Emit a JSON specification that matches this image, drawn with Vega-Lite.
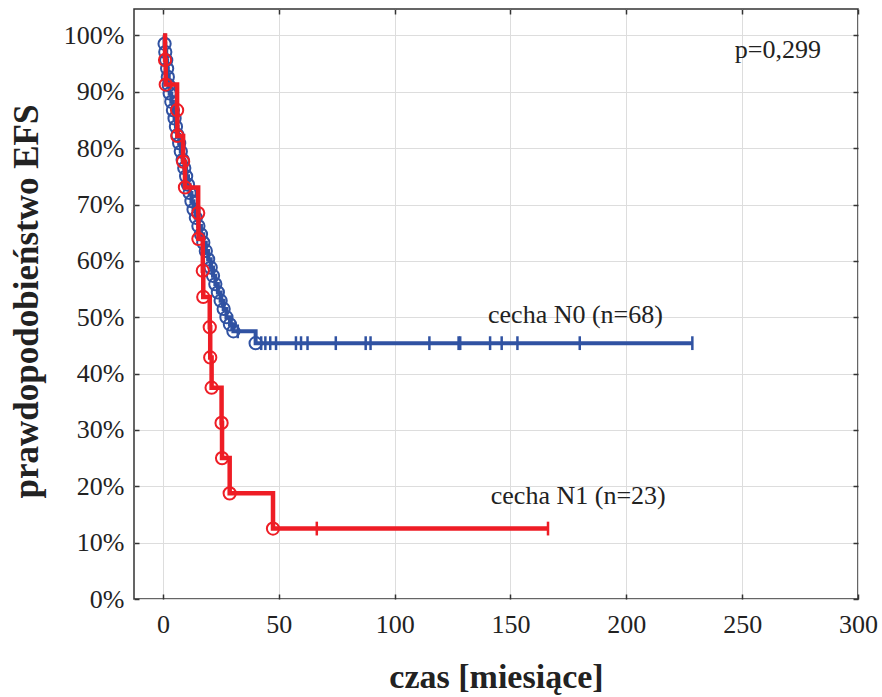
{
  "$schema": "https://vega.github.io/schema/vega-lite/v6.json",
  "width": 724,
  "height": 590,
  "autosize": {"type": "none"},
  "padding": {"left": 134, "top": 9, "right": 24, "bottom": 98},
  "background": "white",
  "config": {
    "font": "Liberation Serif",
    "view": {"stroke": "#333333", "strokeWidth": 1.5}
  },
  "datasets": {
    "km": [
      {"g": "N0", "t": 0, "s": 1, "k": "s"},
      {"g": "N0", "t": 0.7, "s": 0.9853, "k": "e"},
      {"g": "N0", "t": 1.0, "s": 0.9706, "k": "e"},
      {"g": "N0", "t": 1.4, "s": 0.9559, "k": "e"},
      {"g": "N0", "t": 1.8, "s": 0.9412, "k": "e"},
      {"g": "N0", "t": 2.1, "s": 0.9265, "k": "e"},
      {"g": "N0", "t": 2.5, "s": 0.9118, "k": "e"},
      {"g": "N0", "t": 2.9, "s": 0.8971, "k": "e"},
      {"g": "N0", "t": 3.6, "s": 0.8824, "k": "e"},
      {"g": "N0", "t": 4.3, "s": 0.8676, "k": "e"},
      {"g": "N0", "t": 5.0, "s": 0.8529, "k": "e"},
      {"g": "N0", "t": 5.6, "s": 0.8382, "k": "e"},
      {"g": "N0", "t": 6.3, "s": 0.8235, "k": "e"},
      {"g": "N0", "t": 7.0, "s": 0.8088, "k": "e"},
      {"g": "N0", "t": 7.7, "s": 0.7941, "k": "e"},
      {"g": "N0", "t": 8.5, "s": 0.7794, "k": "e"},
      {"g": "N0", "t": 9.2, "s": 0.7647, "k": "e"},
      {"g": "N0", "t": 10.0, "s": 0.75, "k": "e"},
      {"g": "N0", "t": 10.8, "s": 0.7353, "k": "e"},
      {"g": "N0", "t": 11.5, "s": 0.7206, "k": "e"},
      {"g": "N0", "t": 12.3, "s": 0.7059, "k": "e"},
      {"g": "N0", "t": 13.2, "s": 0.6912, "k": "e"},
      {"g": "N0", "t": 14.2, "s": 0.6765, "k": "e"},
      {"g": "N0", "t": 15.3, "s": 0.6618, "k": "e"},
      {"g": "N0", "t": 16.4, "s": 0.6471, "k": "e"},
      {"g": "N0", "t": 17.4, "s": 0.6324, "k": "e"},
      {"g": "N0", "t": 18.5, "s": 0.6176, "k": "e"},
      {"g": "N0", "t": 19.5, "s": 0.6029, "k": "e"},
      {"g": "N0", "t": 20.6, "s": 0.5882, "k": "e"},
      {"g": "N0", "t": 21.0, "s": 0.5882, "k": "c"},
      {"g": "N0", "t": 21.6, "s": 0.5735, "k": "e"},
      {"g": "N0", "t": 22.6, "s": 0.5588, "k": "e"},
      {"g": "N0", "t": 23.7, "s": 0.5441, "k": "e"},
      {"g": "N0", "t": 24.9, "s": 0.5294, "k": "e"},
      {"g": "N0", "t": 25.5, "s": 0.5294, "k": "c"},
      {"g": "N0", "t": 26.2, "s": 0.5147, "k": "e"},
      {"g": "N0", "t": 27.4, "s": 0.5, "k": "e"},
      {"g": "N0", "t": 28.9, "s": 0.4875, "k": "e"},
      {"g": "N0", "t": 29.6, "s": 0.4875, "k": "c"},
      {"g": "N0", "t": 30.4, "s": 0.475, "k": "e"},
      {"g": "N0", "t": 32.3, "s": 0.475, "k": "c"},
      {"g": "N0", "t": 40.0, "s": 0.454, "k": "e"},
      {"g": "N0", "t": 42.4, "s": 0.454, "k": "c"},
      {"g": "N0", "t": 44.2, "s": 0.454, "k": "c"},
      {"g": "N0", "t": 46.3, "s": 0.454, "k": "c"},
      {"g": "N0", "t": 48.8, "s": 0.454, "k": "c"},
      {"g": "N0", "t": 57.4, "s": 0.454, "k": "c"},
      {"g": "N0", "t": 59.6, "s": 0.454, "k": "c"},
      {"g": "N0", "t": 62.4, "s": 0.454, "k": "c"},
      {"g": "N0", "t": 74.6, "s": 0.454, "k": "c"},
      {"g": "N0", "t": 87.5, "s": 0.454, "k": "c"},
      {"g": "N0", "t": 89.6, "s": 0.454, "k": "c"},
      {"g": "N0", "t": 115.0, "s": 0.454, "k": "c"},
      {"g": "N0", "t": 127.6, "s": 0.454, "k": "c"},
      {"g": "N0", "t": 128.3, "s": 0.454, "k": "c"},
      {"g": "N0", "t": 141.2, "s": 0.454, "k": "c"},
      {"g": "N0", "t": 146.2, "s": 0.454, "k": "c"},
      {"g": "N0", "t": 153.0, "s": 0.454, "k": "c"},
      {"g": "N0", "t": 179.9, "s": 0.454, "k": "c"},
      {"g": "N0", "t": 228.5, "s": 0.454, "k": "c"},
      {"g": "N1", "t": 0, "s": 1, "k": "s"},
      {"g": "N1", "t": 0.9, "s": 0.9565, "k": "e"},
      {"g": "N1", "t": 1.2, "s": 0.913, "k": "e"},
      {"g": "N1", "t": 6.1, "s": 0.8674, "k": "e"},
      {"g": "N1", "t": 6.2, "s": 0.8217, "k": "e"},
      {"g": "N1", "t": 8.7, "s": 0.7761, "k": "e"},
      {"g": "N1", "t": 9.5, "s": 0.7304, "k": "e"},
      {"g": "N1", "t": 15.2, "s": 0.6848, "k": "e"},
      {"g": "N1", "t": 15.3, "s": 0.6391, "k": "e"},
      {"g": "N1", "t": 17.2, "s": 0.5826, "k": "e"},
      {"g": "N1", "t": 17.4, "s": 0.536, "k": "e"},
      {"g": "N1", "t": 20.2, "s": 0.4823, "k": "e"},
      {"g": "N1", "t": 20.4, "s": 0.4287, "k": "e"},
      {"g": "N1", "t": 21.0, "s": 0.375, "k": "e"},
      {"g": "N1", "t": 25.3, "s": 0.3125, "k": "e"},
      {"g": "N1", "t": 25.5, "s": 0.25, "k": "e"},
      {"g": "N1", "t": 28.8, "s": 0.1875, "k": "e"},
      {"g": "N1", "t": 47.5, "s": 0.125, "k": "e"},
      {"g": "N1", "t": 66.4, "s": 0.125, "k": "c"},
      {"g": "N1", "t": 166.2, "s": 0.125, "k": "c"}
    ],
    "notes": [
      {"t": 246.8, "s": 0.96, "label": "p=0,299"},
      {"t": 140.3, "s": 0.49, "label": "cecha N0 (n=68)"},
      {"t": 141.5, "s": 0.1686, "label": "cecha N1 (n=23)"}
    ]
  },
  "layer": [
    {
      "data": {"name": "km"},
      "transform": [{"filter": "datum.g === 'N0'"}],
      "mark": {"type": "line", "interpolate": "step-after", "strokeWidth": 4, "color": "#3052A2"},
      "encoding": {
        "x": {
          "field": "t", "type": "quantitative",
          "scale": {"domain": [-12.5, 300], "nice": false, "zero": false},
          "axis": {
            "orient": "bottom",
            "values": [0, 50, 100, 150, 200, 250, 300],
            "grid": true, "gridColor": "#DDDDDD", "gridWidth": 1,
            "domain": false,
            "tickSize": -5, "tickColor": "#333333", "tickWidth": 1.5,
            "labelFont": "Liberation Serif", "labelFontSize": 26, "labelColor": "#222222", "labelPadding": 17,
            "labelFlush": false, "labelOverlap": false,
            "title": "czas [miesiące]", "titleFont": "Liberation Serif", "titleFontSize": 34, "titleFontWeight": "bold",
            "titleColor": "#222222", "titleBaseline": "alphabetic", "titleY": 88
          }
        },
        "y": {
          "field": "s", "type": "quantitative",
          "scale": {"domain": [0, 1.047], "nice": false, "zero": false},
          "axis": {
            "orient": "left",
            "values": [0, 0.1, 0.2, 0.3, 0.4, 0.5, 0.6, 0.7, 0.8, 0.9, 1],
            "format": ".0%",
            "grid": true, "gridColor": "#DDDDDD", "gridWidth": 1,
            "domain": false,
            "tickSize": -5, "tickColor": "#333333", "tickWidth": 1.5,
            "labelFont": "Liberation Serif", "labelFontSize": 26, "labelColor": "#222222", "labelPadding": 15,
            "labelFlush": false, "labelOverlap": false,
            "title": "prawdopodobieństwo EFS", "titleFont": "Liberation Serif", "titleFontSize": 35, "titleFontWeight": "bold",
            "titleColor": "#222222", "titleBaseline": "alphabetic", "titleX": -97, "titleY": 292
          }
        },
        "order": {"field": "t", "type": "quantitative"}
      }
    },
    {
      "data": {"name": "km"},
      "transform": [{"filter": "datum.g === 'N0' && datum.k === 'e'"}],
      "mark": {"type": "point", "shape": "circle", "filled": false, "size": 150, "strokeWidth": 2, "color": "#3052A2", "opacity": 1},
      "encoding": {
        "x": {"field": "t", "type": "quantitative", "scale": {"domain": [-12.5, 300], "nice": false, "zero": false}, "axis": null},
        "y": {"field": "s", "type": "quantitative", "scale": {"domain": [0, 1.047], "nice": false, "zero": false}, "axis": null}
      }
    },
    {
      "data": {"name": "km"},
      "transform": [{"filter": "datum.g === 'N0' && datum.k === 'c'"}],
      "mark": {"type": "point", "shape": "M0,-1L0,1", "filled": false, "size": 190, "strokeWidth": 2.5, "color": "#3052A2", "opacity": 1},
      "encoding": {
        "x": {"field": "t", "type": "quantitative", "scale": {"domain": [-12.5, 300], "nice": false, "zero": false}, "axis": null},
        "y": {"field": "s", "type": "quantitative", "scale": {"domain": [0, 1.047], "nice": false, "zero": false}, "axis": null}
      }
    },
    {
      "data": {"name": "km"},
      "transform": [{"filter": "datum.g === 'N1'"}],
      "mark": {"type": "line", "interpolate": "step-after", "strokeWidth": 4.5, "color": "#EE1D25"},
      "encoding": {
        "x": {
          "field": "t", "type": "quantitative",
          "scale": {"domain": [-12.5, 300], "nice": false, "zero": false},
          "axis": {
            "orient": "top",
            "values": [0, 50, 100, 150, 200, 250, 300],
            "grid": false, "domain": false, "labels": false, "title": null,
            "tickSize": -5, "tickColor": "#333333", "tickWidth": 1.5
          }
        },
        "y": {
          "field": "s", "type": "quantitative",
          "scale": {"domain": [0, 1.047], "nice": false, "zero": false},
          "axis": {
            "orient": "right",
            "values": [0, 0.1, 0.2, 0.3, 0.4, 0.5, 0.6, 0.7, 0.8, 0.9, 1],
            "grid": false, "domain": false, "labels": false, "title": null,
            "tickSize": -5, "tickColor": "#333333", "tickWidth": 1.5
          }
        },
        "order": {"field": "t", "type": "quantitative"}
      }
    },
    {
      "data": {"name": "km"},
      "transform": [{"filter": "datum.g === 'N1' && datum.k === 'e'"}],
      "mark": {"type": "point", "shape": "circle", "filled": false, "size": 150, "strokeWidth": 2, "color": "#EE1D25", "opacity": 1},
      "encoding": {
        "x": {"field": "t", "type": "quantitative", "scale": {"domain": [-12.5, 300], "nice": false, "zero": false}, "axis": null},
        "y": {"field": "s", "type": "quantitative", "scale": {"domain": [0, 1.047], "nice": false, "zero": false}, "axis": null}
      }
    },
    {
      "data": {"name": "km"},
      "transform": [{"filter": "datum.g === 'N1' && datum.k === 'c'"}],
      "mark": {"type": "point", "shape": "M0,-1L0,1", "filled": false, "size": 190, "strokeWidth": 2.5, "color": "#EE1D25", "opacity": 1},
      "encoding": {
        "x": {"field": "t", "type": "quantitative", "scale": {"domain": [-12.5, 300], "nice": false, "zero": false}, "axis": null},
        "y": {"field": "s", "type": "quantitative", "scale": {"domain": [0, 1.047], "nice": false, "zero": false}, "axis": null}
      }
    },
    {
      "data": {"name": "notes"},
      "mark": {"type": "text", "align": "left", "baseline": "alphabetic", "fontSize": 26, "font": "Liberation Serif", "color": "#222222"},
      "encoding": {
        "x": {"field": "t", "type": "quantitative", "scale": {"domain": [-12.5, 300], "nice": false, "zero": false}, "axis": null},
        "y": {"field": "s", "type": "quantitative", "scale": {"domain": [0, 1.047], "nice": false, "zero": false}, "axis": null},
        "text": {"field": "label", "type": "nominal"}
      }
    }
  ],
  "resolve": {"axis": {"x": "independent", "y": "independent"}}
}
